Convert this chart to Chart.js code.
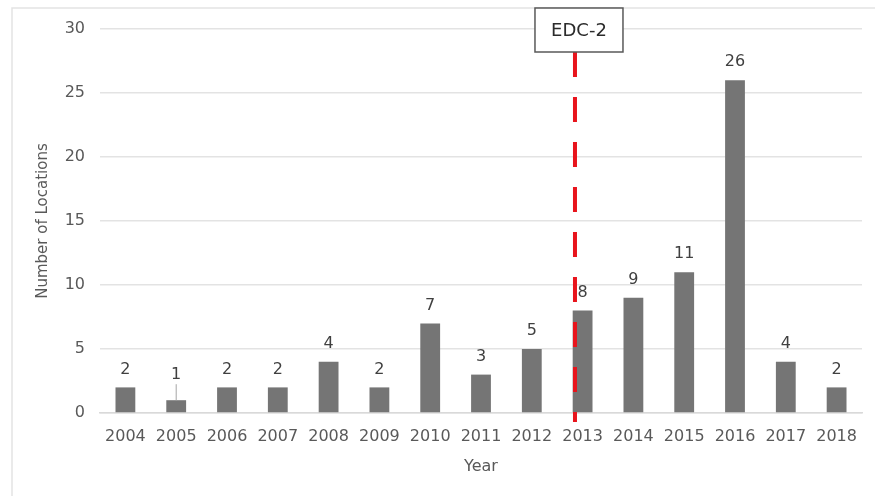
<!DOCTYPE html>
<html>
<head>
<meta charset="utf-8">
<script src="https://cdn.jsdelivr.net/npm/chart.js@4/dist/chart.umd.min.js"></script>
<style>
  html, body { margin: 0; padding: 0; background: #fff; overflow: hidden; }
  #wrap { width: 875px; height: 496px; position: relative; }
</style>
</head>
<body>
<div id="wrap"><canvas id="c" width="875" height="496"></canvas></div>
<script>
// Locations per year
const years = ['2004','2005','2006','2007','2008','2009','2010','2011','2012','2013','2014','2015','2016','2017','2018'];
const locations = [2, 1, 2, 2, 4, 2, 7, 3, 5, 8, 9, 11, 26, 4, 2];
const yTicks = [0, 5, 10, 15, 20, 25, 30];
const markerYear = '2013';
const markerLabel = 'EDC-2';
const leaderLabelYears = ['2005'];

const FONT = '"DejaVu Sans", sans-serif';

// Light frame around the chart (left and top edges visible)
const framePlugin = {
  id: 'frame',
  beforeDraw(chart) {
    const ctx = chart.ctx;
    ctx.save();
    ctx.strokeStyle = '#e3e3e3';
    ctx.lineWidth = 1.5;
    ctx.beginPath();
    ctx.moveTo(12, chart.height);
    ctx.lineTo(12, 8);
    ctx.lineTo(chart.width, 8);
    ctx.stroke();
    ctx.restore();
  }
};

// Value labels above each bar
const valueLabels = {
  id: 'valueLabels',
  afterDatasetsDraw(chart) {
    const ctx = chart.ctx;
    const meta = chart.getDatasetMeta(0);
    ctx.save();
    ctx.font = '16px ' + FONT;
    ctx.fillStyle = '#404040';
    ctx.textAlign = 'center';
    ctx.textBaseline = 'middle';
    meta.data.forEach((bar, i) => {
      const v = chart.data.datasets[0].data[i];
      const leader = leaderLabelYears.includes(chart.data.labels[i]);
      const ty = bar.y - (leader ? 25 : 18);
      if (leader) {
        ctx.strokeStyle = '#a6a6a6';
        ctx.lineWidth = 1;
        ctx.beginPath();
        ctx.moveTo(bar.x, ty + 9);
        ctx.lineTo(bar.x, bar.y);
        ctx.stroke();
      }
      ctx.fillText(String(v), bar.x, ty);
    });
    ctx.restore();
  }
};

// Dashed red marker line with a boxed label at the top
const markerPlugin = {
  id: 'marker',
  afterDatasetsDraw(chart) {
    const ctx = chart.ctx;
    const xs = chart.scales.x;
    const idx = chart.data.labels.indexOf(markerYear);
    const catW = xs.width / chart.data.labels.length;
    const x = xs.getPixelForValue(idx) - 0.15 * catW;
    const boxTop = 8, boxH = 44, boxW = 88;
    const lineTop = boxTop + boxH;
    const lineBottom = chart.chartArea.bottom + 9;
    ctx.save();
    ctx.strokeStyle = '#e8141c';
    ctx.lineWidth = 4;
    ctx.setLineDash([25, 20]);
    ctx.beginPath();
    ctx.moveTo(x, lineTop);
    ctx.lineTo(x, lineBottom);
    ctx.stroke();
    ctx.setLineDash([]);
    const bx = x + 4 - boxW / 2;
    ctx.fillStyle = '#ffffff';
    ctx.fillRect(bx, boxTop, boxW, boxH);
    ctx.strokeStyle = '#595959';
    ctx.lineWidth = 1.5;
    ctx.strokeRect(bx, boxTop, boxW, boxH);
    ctx.fillStyle = '#2b2b2b';
    ctx.font = '18px ' + FONT;
    ctx.textAlign = 'center';
    ctx.textBaseline = 'middle';
    ctx.fillText(markerLabel, bx + boxW / 2, boxTop + boxH / 2 + 1);
    ctx.restore();
  }
};

new Chart(document.getElementById('c'), {
  type: 'bar',
  data: {
    labels: years,
    datasets: [{
      data: locations,
      backgroundColor: '#757575',
      borderWidth: 0,
      barPercentage: 0.78,
      categoryPercentage: 0.5
    }]
  },
  options: {
    responsive: false,
    animation: false,
    devicePixelRatio: 1,
    layout: { padding: { left: 12, right: 13, top: 29, bottom: 0 } },
    plugins: { legend: { display: false }, tooltip: { enabled: false } },
    scales: {
      x: {
        offset: true,
        grid: { display: false, drawTicks: false },
        border: { display: true, color: '#d9d9d9', width: 1.5 },
        ticks: { color: '#595959', font: { family: FONT, size: 16 }, padding: 14, maxRotation: 0, autoSkip: false },
        title: { display: true, text: 'Year', color: '#595959', font: { family: FONT, size: 16 }, padding: { top: 0, bottom: 20 } },
        afterFit(s) { s.height = 83; }
      },
      y: {
        min: 0,
        max: 30,
        afterBuildTicks(s) { s.ticks = yTicks.map(v => ({ value: v })); },
        grid: { color: '#e3e3e3', lineWidth: 1.5, drawTicks: false },
        border: { display: false },
        ticks: { color: '#595959', font: { family: FONT, size: 16 }, padding: 15 },
        title: { display: true, text: 'Number of Locations', color: '#595959', font: { family: FONT, size: 15 }, padding: { top: 22, bottom: 0 } },
        afterFit(s) { s.width = 88; }
      }
    }
  },
  plugins: [framePlugin, valueLabels, markerPlugin]
});
</script>
</body>
</html>
